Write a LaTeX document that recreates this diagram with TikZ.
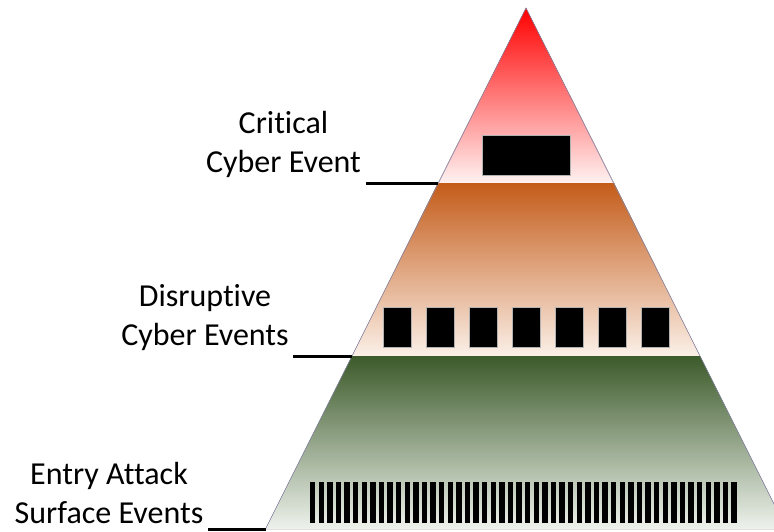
\documentclass[tikz,border=0pt]{standalone}
\usepackage{fontspec}
\setmainfont{Carlito}[Ligatures=CommonOff]
\usetikzlibrary{positioning,calc}

\definecolor{critred}{HTML}{FF0000}
\definecolor{critpale}{HTML}{FFF2F2}
\definecolor{disrorange}{HTML}{C45C1A}
\definecolor{disrpale}{HTML}{FBF0E8}
\definecolor{entrygreen}{HTML}{3C5A2A}
\definecolor{entrypale}{HTML}{EEF2EC}
\definecolor{sidegray}{HTML}{8A88A8}

\begin{document}
\begin{tikzpicture}[
  x=1pt, y=-1pt,
  font=\fontsize{32}{38.5}\selectfont,
  lbl/.style={align=center, inner sep=0pt, anchor=base},
  leader/.style={draw=black, line width=3pt},
  side/.style={draw=sidegray, line width=0.6pt},
  evt/.style={fill=black, draw=gray!60, line width=0.6pt}
]
\useasboundingbox (0,0) rectangle (774,531);
\clip (0,0) rectangle (774,531);

% corners of the three tiers
\coordinate (apex) at (526,8);
\coordinate (t1l) at (438,183);
\coordinate (t1r) at (614,183);
\coordinate (t2l) at (352,356);
\coordinate (t2r) at (700,356);
\coordinate (t3l) at (265.5,529);
\coordinate (t3r) at (786.5,529);

% tiers
\fill[top color=critred, bottom color=critpale] (apex) -- (t1r) -- (t1l) -- cycle;
\fill[top color=disrorange, bottom color=disrpale] (t1l) -- (t1r) -- (t2r) -- (t2l) -- cycle;
\fill[top color=entrygreen, bottom color=entrypale] (t2l) -- (t2r) -- (t3r) -- (t3l) -- cycle;
\draw[side] (t3l) -- (apex) -- (t3r);

% events in each tier
\filldraw[evt] (482,135) rectangle (570,175);
\foreach \i in {0,...,6}
  \filldraw[evt] (383+\i*43,307) rectangle ++(28,40);
\foreach \i in {0,...,49}
  \fill (310+\i*8.6,482) rectangle ++(5.4,41);

% labels (base = last line)
\node[lbl] (crit) at (283.5,172) {Critical\\Cyber Event};
\node[lbl] (disr) at (205,345) {Disruptive\\Cyber Events};
\node[lbl] (entry) at (109,523) {Entry Attack\\Surface Events};

% leaders
\coordinate (critend) at (366,183);
\coordinate (disrend) at (293,356);
\coordinate (entryend) at (208,529);
\draw[leader] (critend) -- (t1l);
\draw[leader] (disrend) -- (t2l);
\draw[leader] (entryend) -- (t3l);
\end{tikzpicture}
\end{document}
